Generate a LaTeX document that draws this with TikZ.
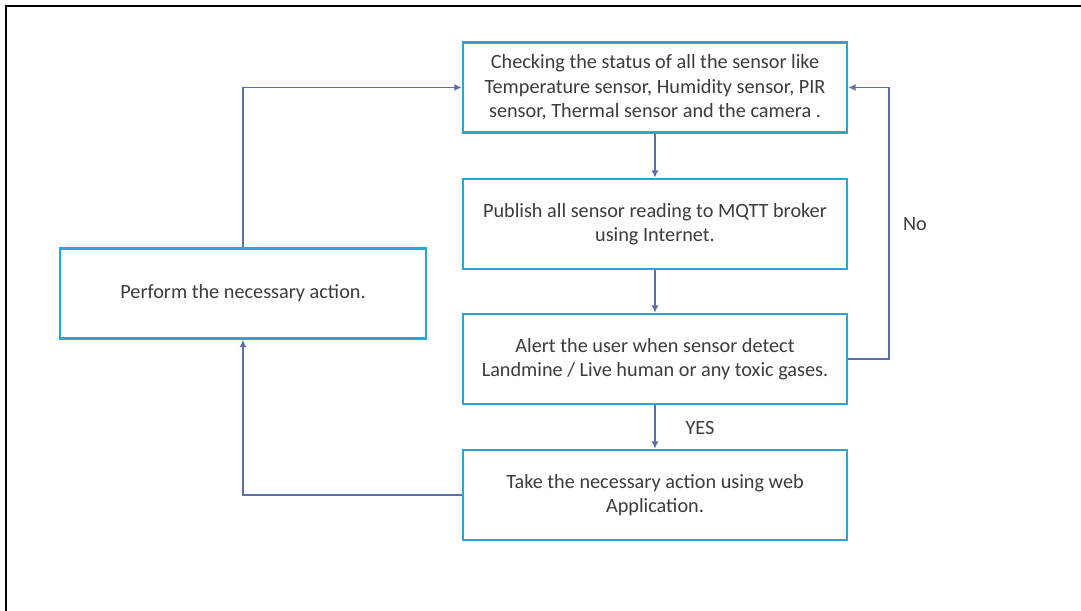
\documentclass[tikz,border=0pt]{standalone}
\usepackage{fontspec}
\setmainfont{Carlito}
\usepackage{tikz}
\usetikzlibrary{arrows.meta}

\definecolor{boxblue}{HTML}{2AA6D6}
\definecolor{linkblue}{HTML}{5A70AE}
\definecolor{textgray}{HTML}{3C3C3C}

\tikzset{
	stepbox/.style={draw=boxblue, line width=2pt, fill=white, align=center,
		text=textgray, font=\fontsize{14.4}{17.3}\selectfont,
		minimum width=9.6cm, minimum height=2.25cm, inner sep=0pt},
	flow/.style={color=linkblue, line width=1.3pt, -{Latex[length=1.8mm,width=1.8mm]}},
	note/.style={text=textgray, font=\fontsize{14.4}{17.3}\selectfont}
}

\begin{document}
\begin{tikzpicture}[x=0.025cm, y=-0.025cm]

			\useasboundingbox (0, 0) rectangle (1081, 611);
			\draw[color=black, line width=1.5pt] (6, 611) -- (6, 6) -- (1081, 6);

			\node[stepbox] (check) at (655, 87.5) {Checking the status of all the sensor like\\ Temperature sensor, Humidity sensor, PIR\\ sensor, Thermal sensor and the camera .};
			\node[stepbox] (publish) at (655, 224) {Publish all sensor reading to MQTT broker\\ using Internet.};
			\node[stepbox] (alert) at (655, 359) {Alert the user when sensor detect\\ Landmine / Live human or any toxic gases.};
			\node[stepbox] (take) at (655, 495) {Take the necessary action using web\\ Application.};
			\node[stepbox, minimum width=9.15cm] (perform) at (243, 293.5) {Perform the necessary action.};

			\coordinate (nobend) at (889, 359);

			\draw[flow] (check) -- (publish);
			\draw[flow] (publish) -- (alert);
			\draw[flow] (alert) -- (take);
			\draw[flow] (alert.east) -- (nobend) |- (check.east);
			\draw[flow] (take.west) -| (perform.south);
			\draw[flow] (perform.north) |- (check.west);

			\node[note] (yes) at (700, 428) {YES};
			\node[note] (no) at (915, 224) {No};

		\end{tikzpicture}
\end{document}
